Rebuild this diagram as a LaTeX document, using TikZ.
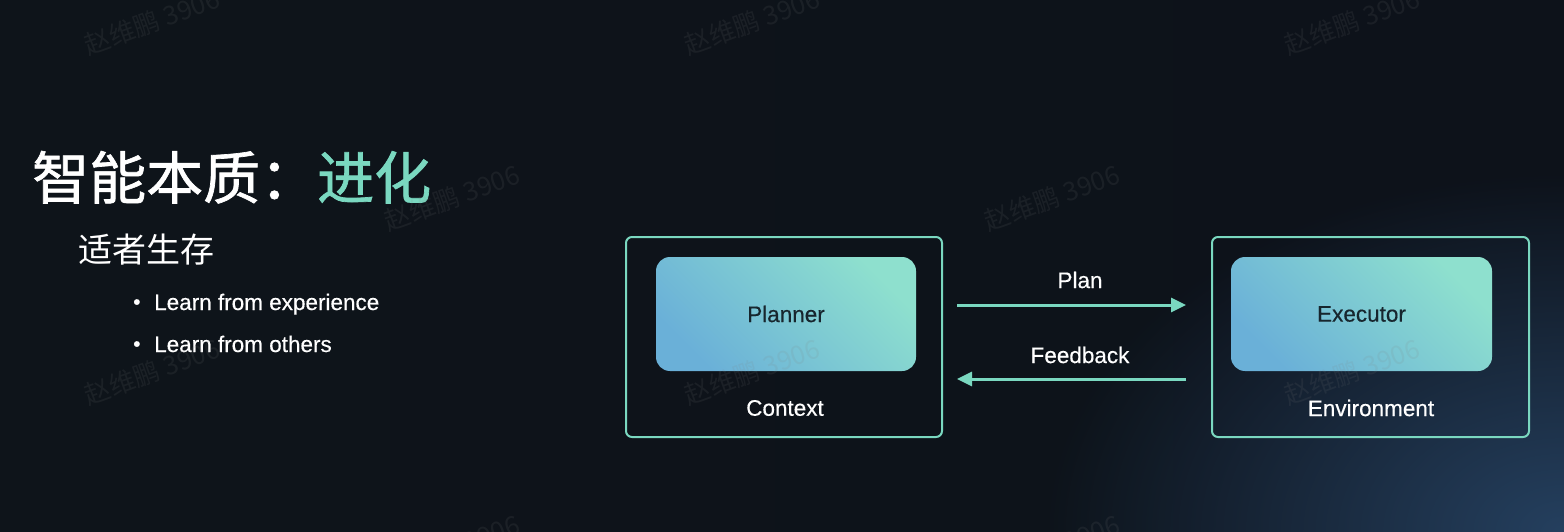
\documentclass[tikz,border=0pt]{standalone}
\usepackage{fontspec}
\setmainfont{Liberation Sans}[FakeBold=0.4]
\newfontfamily\cjk{Noto Sans CJK SC}
\newfontfamily\cjkb{Noto Sans CJK SC}[FakeBold=1.2]
\usetikzlibrary{arrows.meta,fadings,calc}
\definecolor{bgbase}{HTML}{08090C}
\definecolor{bgleft}{HTML}{0E141A}
\definecolor{bgright}{HTML}{0D121A}
\definecolor{glow}{HTML}{25405F}
\definecolor{accent}{HTML}{7AD8C0}
\definecolor{boxA}{HTML}{6AB0D8}
\definecolor{boxB}{HTML}{8EE0CE}
\definecolor{boxtext}{HTML}{17262E}
\tikzfading[name=glowfade, inner color=transparent!0, outer color=transparent!100]
\begin{document}
\begin{tikzpicture}[x=1pt,y=-1pt,
  outerbox/.style={draw=accent, line width=2pt, rounded corners=6pt, inner sep=0pt},
  innerbox/.style={left color=boxA, right color=boxB, shading angle=135, rounded corners=14pt, inner sep=0pt, text=boxtext, font=\fontsize{22.5}{27}\selectfont},
  lbl/.style={text=white, inner sep=0pt, font=\fontsize{22.5}{27}\selectfont},
  arr/.style={draw=accent, line width=3pt, -{Triangle[length=15pt,width=14pt]}},
  bullettext/.style={anchor=base west, inner sep=0pt, text=white, font=\fontsize{22.5}{27}\selectfont},
  wm/.style={text=gray, opacity=0.12, rotate=20, inner sep=0pt, font=\cjk\fontsize{26}{26}\selectfont}]
\useasboundingbox (0,0) rectangle (1564,532);
\shade[left color=bgleft, middle color=bgbase, right color=bgright] (0,0) rectangle (1564,532);
\fill[glow, path fading=glowfade] (1564,532) ellipse [x radius=520, y radius=360];
% left text
\node[anchor=base west, inner sep=0pt, text=white, font=\cjkb\fontsize{57}{57}\selectfont] (title) at (32,199) {智能本质：\textcolor{accent}{进化}};
\node[anchor=base west, inner sep=0pt, text=white, font=\cjk\fontsize{34}{34}\selectfont] (sub) at (78,262) {适者生存};
\node[bullettext, font=\fontsize{21}{24}\selectfont] (d1) at (133,309) {•};
\node[bullettext] (b1) at (154,310) {Learn from experience};
\node[bullettext, font=\fontsize{21}{24}\selectfont] (d2) at (133,351) {•};
\node[bullettext] (b2) at (154,352) {Learn from others};
% diagram
\node[outerbox, minimum width=316pt, minimum height=200pt] (ctx) at (784,337) {};
\node[innerbox, minimum width=260pt, minimum height=114pt] (planner) at (786,314) {Planner};
\node[lbl] (ctxl) at (785,408) {Context};
\node[outerbox, minimum width=317pt, minimum height=200pt] (env) at (1370.5,337) {};
\node[innerbox, minimum width=261pt, minimum height=114pt] (executor) at (1361.5,314) {Executor};
\node[lbl] (envl) at (1371,408) {Environment};
\draw[arr] ($(ctx.east)+(14,-32)$) -- ($(env.west)+(-25,-32)$);
\draw[arr] ($(env.west)+(-25,42)$) -- ($(ctx.east)+(14,42)$);
\node[lbl] (plan) at (1080,280) {Plan};
\node[lbl] (feedback) at (1080,355) {Feedback};
% watermarks
\foreach \wx/\wy [count=\i] in {152/22, 752/22, 1352/22, 452/198, 1052/198, 152/372, 752/372, 1352/372, 452/548, 1052/548}
  \node[wm] (wm\i) at (\wx,\wy) {赵维鹏 3906};
\end{tikzpicture}
\end{document}
